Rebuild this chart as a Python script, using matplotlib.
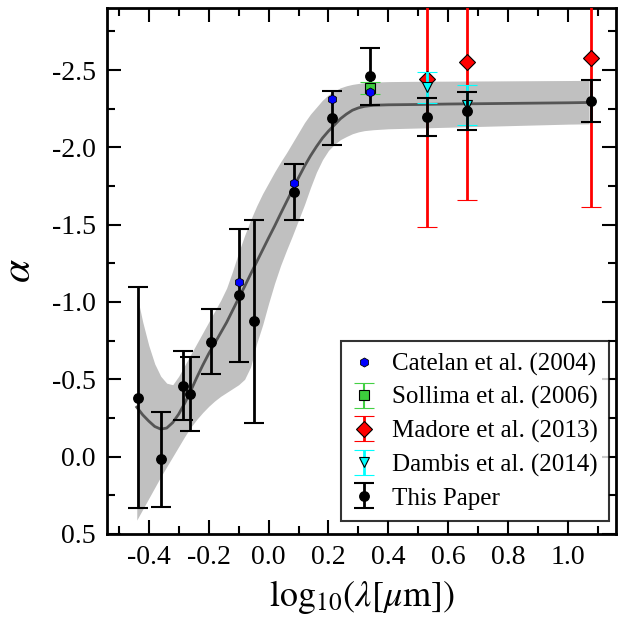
import matplotlib
matplotlib.use('Agg')
import matplotlib.pyplot as plt
from matplotlib.ticker import MultipleLocator, FormatStrFormatter
import numpy as np

plt.rcParams['font.family'] = ['Liberation Serif', 'DejaVu Serif']
plt.rcParams['mathtext.fontset'] = 'stix'
plt.rcParams['axes.unicode_minus'] = False

# This Paper
x_paper = [-0.436, -0.359, -0.287, -0.262, -0.192, -0.098, -0.050, 0.085, 0.211, 0.339, 0.530, 0.661, 1.077]
a_paper = [-0.38, 0.016, -0.46, -0.405, -0.744, -1.043, -0.876, -1.712, -2.192, -2.458, -2.196, -2.233, -2.30]
e_paper = [0.715, 0.307, 0.224, 0.238, 0.21, 0.428, 0.656, 0.181, 0.175, 0.185, 0.125, 0.124, 0.135]

# Catelan et al. (2004)
x_catelan = [-0.098, 0.085, 0.211, 0.339]
a_catelan = [-1.132, -1.772, -2.312, -2.355]

# Sollima et al. (2006)
x_sollima = [0.339]
a_sollima = [-2.383]
e_sollima = [0.04]

# Madore et al. (2013)
x_madore = [0.530, 0.661, 1.077]
a_madore = [-2.441, -2.551, -2.579]
e_madore = [0.953, 0.89, 0.968]

# Dambis et al. (2014)
x_dambis = [0.530, 0.661]
a_dambis = [-2.387, -2.273]
e_dambis = [0.098, 0.128]

# fitted relation and its confidence band
x_fit = [-0.44, -0.42, -0.40, -0.38, -0.36, -0.34, -0.32, -0.30, -0.28, -0.26,
         -0.24, -0.22, -0.20, -0.18, -0.16, -0.14, -0.12, -0.10, -0.08, -0.06,
         -0.04, -0.02, 0.00, 0.02, 0.04, 0.06, 0.08, 0.10, 0.12, 0.14,
         0.16, 0.18, 0.20, 0.22, 0.24, 0.26, 0.28, 0.30, 0.32, 0.35,
         0.40, 0.50, 0.60, 0.70, 0.80, 0.90, 1.00, 1.07]
a_fit = [-0.32, -0.27, -0.23, -0.195, -0.178, -0.185, -0.22, -0.275, -0.345, -0.425,
         -0.51, -0.59, -0.665, -0.732, -0.80, -0.868, -0.946, -1.024, -1.10, -1.18,
         -1.258, -1.336, -1.414, -1.49, -1.57, -1.648, -1.726, -1.804, -1.878, -1.945,
         -2.005, -2.06, -2.105, -2.145, -2.185, -2.215, -2.24, -2.255, -2.265, -2.272,
         -2.275, -2.277, -2.28, -2.282, -2.284, -2.286, -2.288, -2.29]
a_fit_hi = [-1.05, -0.87, -0.72, -0.60, -0.52, -0.475, -0.465, -0.52, -0.59, -0.66,
            -0.73, -0.80, -0.87, -0.94, -1.01, -1.09, -1.20, -1.32, -1.43, -1.53,
            -1.62, -1.70, -1.77, -1.84, -1.905, -1.965, -2.03, -2.095, -2.16, -2.215,
            -2.26, -2.305, -2.34, -2.365, -2.385, -2.398, -2.407, -2.413, -2.418, -2.422,
            -2.425, -2.427, -2.428, -2.429, -2.43, -2.431, -2.432, -2.433]
a_fit_lo = [0.41, 0.34, 0.27, 0.20, 0.13, 0.065, 0.0, -0.065, -0.13, -0.19,
            -0.24, -0.285, -0.325, -0.36, -0.39, -0.415, -0.44, -0.465, -0.50, -0.58,
            -0.73, -0.85, -0.99, -1.12, -1.235, -1.335, -1.43, -1.53, -1.63, -1.74,
            -1.84, -1.92, -1.98, -2.02, -2.05, -2.07, -2.088, -2.10, -2.108, -2.114,
            -2.12, -2.125, -2.13, -2.135, -2.14, -2.145, -2.15, -2.152]

fig = plt.figure(figsize=(6.21, 6.26), dpi=100)
ax = fig.add_axes([0.172, 0.147, 0.820, 0.840])

ax.fill_between(x_fit, a_fit_lo, a_fit_hi, color='#c0c0c0', lw=0, zorder=1)
ax.plot(x_fit, a_fit, '-', color='#555555', lw=2, zorder=2)

h_madore = ax.errorbar(x_madore, a_madore, yerr=e_madore, fmt='D', color='red', mfc='red', mec='black',
                       mew=0.8, ms=8, elinewidth=2, capsize=7, capthick=1.5, zorder=3,
                       label='Madore et al. (2013)')
h_dambis = ax.errorbar(x_dambis, a_dambis, yerr=e_dambis, fmt='v', color='cyan', mfc='cyan', mec='black',
                       mew=0.8, ms=7, elinewidth=2, capsize=7, capthick=1.5, zorder=4,
                       label='Dambis et al. (2014)')
h_paper = ax.errorbar(x_paper, a_paper, yerr=e_paper, fmt='o', color='black', ms=6.8,
                      elinewidth=2, capsize=7, capthick=1.5, zorder=5, label='This Paper')
h_sollima = ax.errorbar(x_sollima, a_sollima, yerr=e_sollima, fmt='s', color='#44d044', mfc='#3ccc3c',
                        mec='black', mew=0.8, ms=6.5, elinewidth=1.5, capsize=7, capthick=1.5, zorder=6,
                        label='Sollima et al. (2006)')
h_catelan, = ax.plot(x_catelan, a_catelan, 'h', color='blue', mec='black', mew=0.6, ms=6.5,
                     zorder=7, label='Catelan et al. (2004)')

ax.set_xlim(-0.54, 1.16)
ax.set_ylim(0.5, -2.9)
ax.xaxis.set_major_locator(MultipleLocator(0.2))
ax.xaxis.set_minor_locator(MultipleLocator(0.1))
ax.yaxis.set_major_locator(MultipleLocator(0.5))
ax.yaxis.set_minor_locator(MultipleLocator(0.25))
ax.xaxis.set_major_formatter(FormatStrFormatter('%.1f'))
ax.yaxis.set_major_formatter(FormatStrFormatter('%.1f'))
ax.tick_params(which='both', direction='in', top=True, right=True, labelsize=20, width=1.5, pad=8)
ax.tick_params(which='major', length=10)
ax.tick_params(which='minor', length=6)
for sp in ax.spines.values():
    sp.set_linewidth(2)

ax.set_xlabel(r'$\mathrm{log}_{10}(\lambda[\mu\mathrm{m}])$', fontsize=26, labelpad=6)
ax.set_ylabel(r'$\alpha$', fontsize=30, labelpad=9)

leg = ax.legend([h_catelan, h_sollima, h_madore, h_dambis, h_paper],
                ['Catelan et al. (2004)', 'Sollima et al. (2006)', 'Madore et al. (2013)',
                 'Dambis et al. (2014)', 'This Paper'],
                loc='lower right', fontsize=18, frameon=True, fancybox=False,
                handlelength=1.0, borderpad=0.45, labelspacing=0.42, handletextpad=0.6,
                borderaxespad=0, bbox_to_anchor=(0.986, 0.025))
leg.get_frame().set_edgecolor('black')
leg.get_frame().set_linewidth(1.5)

fig.savefig('out.png', dpi=100)
